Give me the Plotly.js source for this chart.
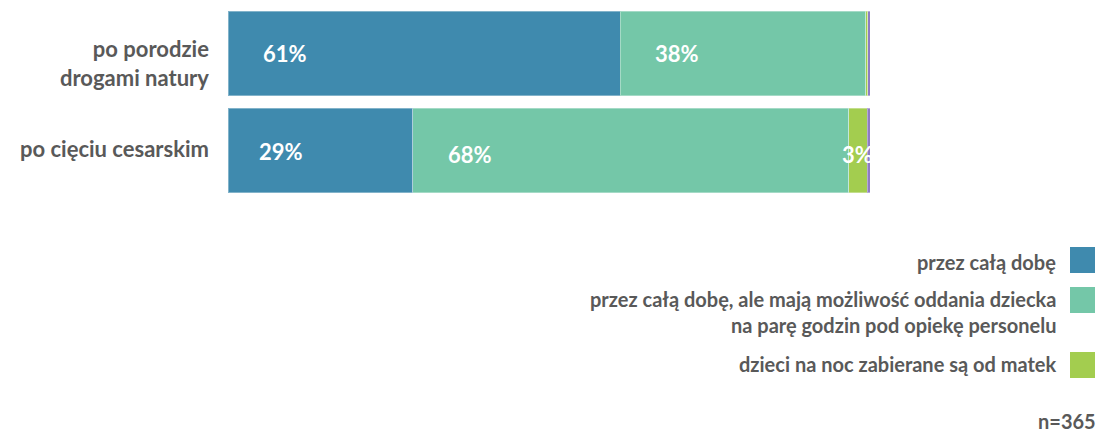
<!DOCTYPE html>
<html>
<head>
<meta charset="utf-8">
<script src="https://cdn.plot.ly/plotly-3.0.1.min.js"></script>
<style>
  body { margin: 0; background: #fff; }
  #chart { width: 1116px; height: 434px; }
</style>
</head>
<body>
<div id="chart"></div>
<script>
// categories (top to bottom)
var categories = ['po porodzie<br>drogami natury', 'po cięciu cesarskim'];

// series values in %
var seriesNames = [
    'przez całą dobę',
    'przez całą dobę, ale mają możliwość oddania dziecka<br>na parę godzin pod opiekę personelu',
    'dzieci na noc zabierane są od matek',
    'inne'
];
var allDay = [61.1, 28.8];
var allDayWithHelp = [38.2, 67.9];
var takenAtNight = [0.35, 2.9];
var other = [0.35, 0.4];

var labelAllDay = ['61%', '29%'];
var labelAllDayWithHelp = ['38%', '68%'];
var labelTakenAtNight = ['', '3%'];

var colors = ['#3f8aae', '#74c7a8', '#a3cd4f', '#8e7cc3'];
var textColor = '#595959';
var fontFam = 'Lato, "Open Sans", sans-serif';

var values = [allDay, allDayWithHelp, takenAtNight, other];
var labels = [labelAllDay, labelAllDayWithHelp, labelTakenAtNight, ['', '']];

// plot area in pixels, used to place the legend in paper coords
var W = 1116, H = 434;
var M = {l: 228, r: 246, t: 5, b: 235};
function px(x) { return (x - M.l) / (W - M.l - M.r); }
function py(y) { return 1 - (y - M.t) / (H - M.t - M.b); }

var traces = [];
values.forEach((vals, i) => {
    traces.push({
        type: 'bar',
        orientation: 'h',
        x: vals,
        y: categories,
        name: seriesNames[i],
        marker: {color: colors[i], line: {color: 'rgba(255,255,255,0.35)', width: 1}},
        hoverinfo: 'x+name',
        showlegend: false
    });
});

var annotations = [];
// category labels, right aligned left of the bars
var catShift = [-9, 2];
categories.forEach((cat, c) => {
    annotations.push({
        xref: 'paper', yref: 'y', x: px(211), y: cat,
        xanchor: 'right', yanchor: 'middle', align: 'right',
        yshift: catShift[c],
        text: cat, showarrow: false,
        font: {family: fontFam, size: 22, color: textColor, weight: 'bold'}
    });
});

// value labels, left aligned a bit inside each segment
categories.forEach((cat, c) => {
    let start = 0;
    values.forEach((vals, i) => {
        if (labels[i][c] !== '') {
            annotations.push({
                x: start, y: cat, xref: 'x', yref: 'y',
                text: labels[i][c],
                xanchor: 'left', yanchor: 'middle',
                xshift: vals[c] < 5 ? -9 : (c === 1 && i === 0 ? 29 : 33),
                yshift: c === 1 ? (i === 0 ? -1 : -4) : 0,
                showarrow: false,
                font: {family: fontFam, size: 22, color: '#ffffff', weight: 'bold'}
            });
        }
        start += vals[c];
    });
});

// custom legend: text right aligned, swatch on the right
var legendY = [262, 312, 364];
var swatchTop = [247, 287, 352];
var shapes = [];
[0, 1, 2].forEach((i) => {
    annotations.push({
        xref: 'paper', yref: 'paper',
        x: px(1058), y: py(legendY[i]),
        xanchor: 'right', yanchor: 'middle', align: 'right',
        text: seriesNames[i],
        showarrow: false,
        font: {family: fontFam, size: 20, color: textColor, weight: 'bold'}
    });
    shapes.push({
        type: 'rect', xref: 'paper', yref: 'paper',
        x0: px(1070), x1: px(1095),
        y0: py(swatchTop[i] + 26), y1: py(swatchTop[i]),
        fillcolor: colors[i], line: {width: 0}
    });
});
annotations.push({
    xref: 'paper', yref: 'paper', x: px(1098), y: py(421),
    xanchor: 'right', yanchor: 'middle',
    text: 'n=365', showarrow: false,
    font: {family: fontFam, size: 20, color: textColor, weight: 'bold'}
});

var layout = {
    width: W,
    height: H,
    barmode: 'stack',
    bargap: 0.124,
    margin: {l: M.l, r: M.r, t: M.t, b: M.b, pad: 0},
    paper_bgcolor: '#ffffff',
    plot_bgcolor: '#ffffff',
    showlegend: false,
    xaxis: {
        range: [0, 100],
        visible: false,
        fixedrange: true
    },
    yaxis: {
        autorange: 'reversed',
        showgrid: false,
        zeroline: false,
        showline: false,
        showticklabels: false,
        fixedrange: true
    },
    annotations: annotations,
    shapes: shapes
};

Plotly.newPlot('chart', traces, layout, {displayModeBar: false, staticPlot: true});
</script>
</body>
</html>
